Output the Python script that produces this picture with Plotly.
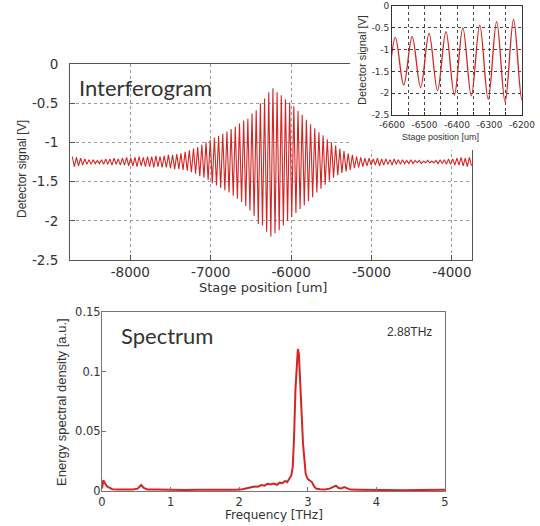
import numpy as np
import plotly.graph_objects as go

W, H = 540, 526

# ---------------- data ----------------
# Interferogram: fringe extrema (stage scan, fringe period ~52 um)
scan_start_um = -8722
fringe_period_um = 52
fringe_max_v = [
    -1.18, -1.19, -1.20, -1.21, -1.22, -1.22, -1.23, -1.22, -1.21, -1.21,
    -1.20, -1.21, -1.20, -1.19, -1.20, -1.19, -1.18, -1.19, -1.18, -1.18,
    -1.17, -1.18, -1.17, -1.16, -1.16, -1.15, -1.14, -1.12, -1.10, -1.08,
    -1.06, -1.03, -1.00, -0.97, -0.94, -0.92, -0.89, -0.86, -0.83, -0.80,
    -0.76, -0.72, -0.70, -0.63, -0.59, -0.50, -0.44, -0.36, -0.31, -0.36,
    -0.40, -0.45, -0.49, -0.54, -0.60, -0.65, -0.71, -0.77, -0.82, -0.87,
    -0.91, -0.96, -1.00, -1.04, -1.08, -1.11, -1.14, -1.16, -1.18, -1.19,
    -1.20, -1.20, -1.21, -1.20, -1.21, -1.21, -1.22, -1.21, -1.22, -1.22,
    -1.23, -1.22, -1.23, -1.23, -1.24, -1.23, -1.24, -1.23, -1.22, -1.22,
    -1.21, -1.21, -1.20, -1.19, -1.20, -1.19]
fringe_min_v = [
    -1.31, -1.30, -1.29, -1.28, -1.28, -1.27, -1.27, -1.28, -1.28, -1.29,
    -1.28, -1.29, -1.29, -1.30, -1.30, -1.31, -1.30, -1.31, -1.31, -1.32,
    -1.31, -1.32, -1.32, -1.33, -1.34, -1.34, -1.35, -1.36, -1.38, -1.40,
    -1.43, -1.45, -1.48, -1.52, -1.55, -1.58, -1.61, -1.64, -1.68, -1.72,
    -1.76, -1.81, -1.87, -1.94, -2.04, -2.06, -2.14, -2.20, -2.16, -2.12,
    -2.06, -2.00, -1.95, -1.90, -1.85, -1.80, -1.75, -1.70, -1.64, -1.59,
    -1.54, -1.49, -1.45, -1.42, -1.39, -1.37, -1.35, -1.33, -1.32, -1.31,
    -1.30, -1.29, -1.29, -1.30, -1.29, -1.28, -1.29, -1.28, -1.28, -1.27,
    -1.27, -1.27, -1.26, -1.27, -1.26, -1.26, -1.26, -1.27, -1.27, -1.28,
    -1.28, -1.29, -1.29, -1.30, -1.31, -1.30]

main_xticks = [-8000, -7000, -6000, -5000, -4000]
main_xticktext = ["-8000", "-7000", "-6000", "-5000", "-4000"]
sig_yticks = [0, -0.5, -1, -1.5, -2, -2.5]
sig_yticktext = ["0", "-0.5", "-1", "-1.5", "-2", "-2.5"]
inset_xticks = [-6600, -6550, -6500, -6450, -6400, -6350, -6300, -6250, -6200]
inset_xticktext = ["-6600", "", "-6500", "", "-6400", "", "-6300", "", "-6200"]

# Spectrum
freq_thz = [0.00, 0.02, 0.04, 0.07, 0.10, 0.15, 0.25, 0.35, 0.45, 0.52, 0.57, 0.61,
            0.66, 0.80, 1.00, 1.20, 1.40, 1.60, 1.80, 1.95, 2.05, 2.15, 2.22, 2.27,
            2.32, 2.37, 2.41, 2.46, 2.50, 2.55, 2.59, 2.63, 2.67, 2.70, 2.73, 2.76,
            2.78, 2.80, 2.82, 2.84, 2.855, 2.87, 2.89, 2.91, 2.93, 2.95, 2.97, 3.00,
            3.03, 3.06, 3.09, 3.12, 3.18, 3.25, 3.32, 3.38, 3.41, 3.45, 3.49, 3.53,
            3.57, 3.62, 3.75, 3.90, 4.00, 4.20, 4.40, 4.60, 4.80, 5.00]
esd_au = [0.0020, 0.0090, 0.0070, 0.0040, 0.0030, 0.0015, 0.0012, 0.0010, 0.0012, 0.0020,
          0.0050, 0.0025, 0.0013, 0.0012, 0.0008, 0.0009, 0.0011, 0.0010, 0.0012, 0.0010,
          0.0015, 0.0025, 0.0038, 0.0035, 0.0050, 0.0045, 0.0060, 0.0055, 0.0062, 0.0052,
          0.0070, 0.0065, 0.0085, 0.0075, 0.0100, 0.0130, 0.0200, 0.0450, 0.0850, 0.1130,
          0.1190, 0.1150, 0.0950, 0.0650, 0.0400, 0.0230, 0.0140, 0.0100, 0.0090, 0.0075,
          0.0040, 0.0020, 0.0015, 0.0012, 0.0020, 0.0035, 0.0045, 0.0025, 0.0022, 0.0032,
          0.0020, 0.0012, 0.0010, 0.0008, 0.0009, 0.0008, 0.0007, 0.0008, 0.0007, 0.0010]
spec_xticks = [0, 1, 2, 3, 4, 5]
spec_yticks = [0, 0.05, 0.1, 0.15]
spec_yticktext = ["0", "0.05", "0.1", "0.15"]

# ---------------- build ----------------
pos, sig = [], []
for k, (hi, lo) in enumerate(zip(fringe_max_v, fringe_min_v)):
    x0 = scan_start_um + k * fringe_period_um
    pos += [x0, x0 + fringe_period_um / 2]
    sig += [hi, lo]

RED = "#d42424"
TXT = "#333333"
FONT_H = "DejaVu Sans"
FONT_V = "Liberation Sans"


def px(x):
    return x / W


def py(y):
    return 1 - y / H


fig = go.Figure()
fig.add_trace(go.Scatter(x=pos, y=sig, mode="lines", line=dict(color=RED, width=1.1),
                         xaxis="x", yaxis="y", hoverinfo="skip"))
# empty cover subplot (white background panel behind the inset)
fig.add_trace(go.Scatter(x=[None], y=[None], mode="lines", xaxis="x2", yaxis="y2",
                         hoverinfo="skip"))
fig.add_trace(go.Scatter(x=pos, y=sig, mode="lines", line=dict(color=RED, width=1.3, shape="spline"),
                         xaxis="x3", yaxis="y3", hoverinfo="skip"))
fig.add_trace(go.Scatter(x=freq_thz, y=esd_au, mode="lines", line=dict(color=RED, width=2),
                         xaxis="x4", yaxis="y4", hoverinfo="skip"))

frame = dict(showline=True, mirror=True, linecolor="#555", linewidth=1,
             ticks="inside", ticklen=5, tickcolor="#555", zeroline=False)

fig.update_layout(
    width=W, height=H, margin=dict(l=0, r=0, t=0, b=0, pad=0, autoexpand=False),
    paper_bgcolor="white", plot_bgcolor="white", showlegend=False,
    xaxis=dict(domain=[px(70), px(472)], range=[-8750, -3750], anchor="y",
               tickvals=main_xticks, ticktext=main_xticktext,
               showgrid=True, gridcolor="#999", griddash="dot", gridwidth=1,
               tickfont=dict(family=FONT_H, size=13.5, color=TXT), **frame),
    yaxis=dict(domain=[py(260), py(64)], range=[-2.5, 0], anchor="x",
               tickvals=sig_yticks, ticktext=sig_yticktext, ticklabelstandoff=8,
               showgrid=True, gridcolor="#999", griddash="dot", gridwidth=1,
               tickfont=dict(family=FONT_H, size=13.5, color=TXT), **frame),
    xaxis2=dict(domain=[px(350), 1], range=[0, 1], anchor="y2", visible=False),
    yaxis2=dict(domain=[py(150), 1], range=[0, 1], anchor="x2", visible=False),
    xaxis3=dict(domain=[px(392), px(522)], range=[-6600, -6200], anchor="y3",
                tickvals=inset_xticks, ticktext=inset_xticktext, ticklabelstandoff=1,
                showgrid=True, gridcolor="#444", griddash="dot", gridwidth=1,
                showline=True, mirror=True, linecolor="#333", ticks="inside", ticklen=3,
                tickcolor="#333", zeroline=False,
                tickfont=dict(family=FONT_H, size=9, color=TXT)),
    yaxis3=dict(domain=[py(115), py(6)], range=[-2.5, 0], anchor="x3",
                tickvals=sig_yticks, ticktext=sig_yticktext,
                showgrid=True, gridcolor="#444", griddash="dot", gridwidth=1,
                showline=True, mirror=True, linecolor="#333", ticks="inside", ticklen=3,
                tickcolor="#333", zeroline=False,
                tickfont=dict(family=FONT_H, size=9, color=TXT)),
    xaxis4=dict(domain=[px(102), px(445)], range=[0, 5], anchor="y4",
                tickvals=spec_xticks, showgrid=False,
                tickfont=dict(family=FONT_H, size=11.5, color=TXT),
                showline=True, mirror=True, linecolor="#777", linewidth=1,
                ticks="inside", ticklen=4, tickcolor="#777", zeroline=False),
    yaxis4=dict(domain=[py(491), py(312)], range=[0, 0.15], anchor="x4",
                tickvals=spec_yticks, ticktext=spec_yticktext, showgrid=False,
                ticklabelstandoff=-2,
                tickfont=dict(family=FONT_H, size=11.5, color=TXT),
                showline=True, mirror=True, linecolor="#777", linewidth=1,
                ticks="inside", ticklen=4, tickcolor="#777", zeroline=False),
)

ann = [
    dict(text="Interferogram", x=px(77), y=py(87), xanchor="left", yanchor="middle",
         font=dict(family="Lato", size=22, color=TXT)),
    dict(text="Spectrum", x=px(119), y=py(335), xanchor="left", yanchor="middle",
         font=dict(family="Lato", size=22, color=TXT)),
    dict(text="2.88THz", x=px(434), y=py(332), xanchor="right", yanchor="middle",
         font=dict(family=FONT_V, size=12, color=TXT)),
    dict(text="Stage position [um]", x=px(263), y=py(287), xanchor="center", yanchor="middle",
         font=dict(family=FONT_H, size=13, color=TXT)),
    dict(text="Detector signal [V]", x=px(22), y=py(169), xanchor="center", yanchor="middle",
         textangle=-90, font=dict(family=FONT_V, size=12, color=TXT)),
    dict(text="Stage position [um]", x=px(440), y=py(137), xanchor="center", yanchor="middle",
         font=dict(family=FONT_V, size=9, color=TXT)),
    dict(text="Detector signal [V]", x=px(362), y=py(60), xanchor="center", yanchor="middle",
         textangle=-90, font=dict(family=FONT_V, size=11, color=TXT)),
    dict(text="Frequency [THz]", x=px(274), y=py(515), xanchor="center", yanchor="middle",
         font=dict(family=FONT_H, size=12, color=TXT)),
    dict(text="Energy spectral density [a.u.]", x=px(61), y=py(402), xanchor="center",
         yanchor="middle", textangle=-90, font=dict(family=FONT_V, size=13, color=TXT)),
]
for a in ann:
    a.update(xref="paper", yref="paper", showarrow=False)
fig.update_layout(annotations=ann)

fig.write_html("out.html", config={"displayModeBar": False},
               post_script="document.body.style.margin='0';")
